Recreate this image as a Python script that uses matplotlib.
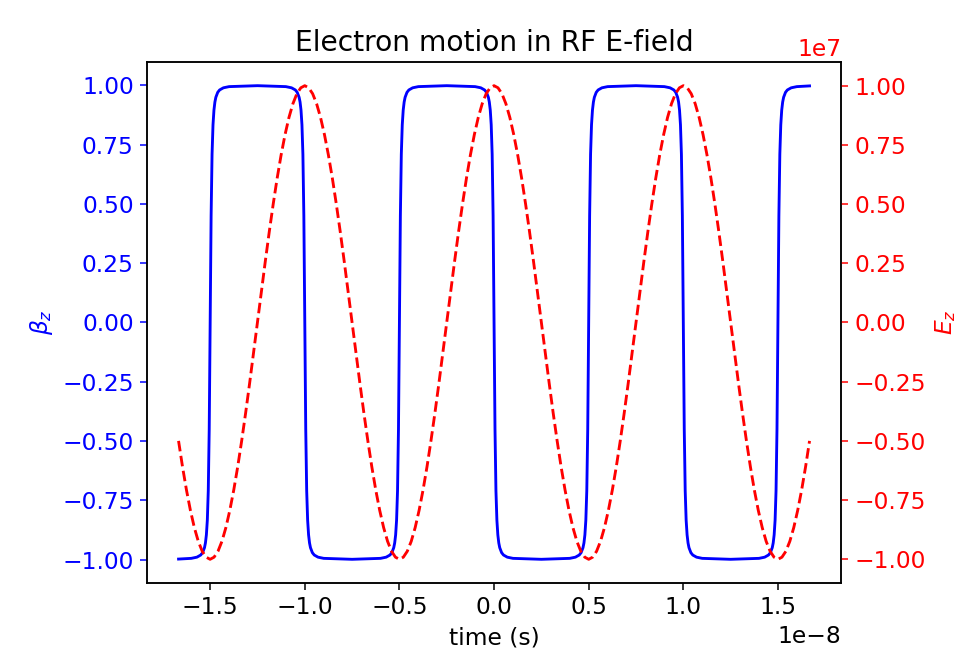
import numpy as np
import matplotlib
matplotlib.use("Agg")
import matplotlib.pyplot as plt

# time values in units of 1e-8 s, field in units of 1e7 V/m
t_beta = [-1.667, -1.60, -1.57, -1.55, -1.54, -1.53, -1.525, -1.52, -1.515, -1.51, -1.505,
          -1.50, -1.495, -1.49, -1.485, -1.48, -1.475, -1.47, -1.46, -1.45, -1.43, -1.40,
          -1.25,
          -1.10, -1.07, -1.05, -1.04, -1.03, -1.025, -1.02, -1.015, -1.01, -1.005,
          -1.00, -0.995, -0.99, -0.985, -0.98, -0.975, -0.97, -0.96, -0.95, -0.93, -0.90,
          -0.75,
          -0.60, -0.57, -0.55, -0.54, -0.53, -0.525, -0.52, -0.515, -0.51, -0.505,
          -0.50, -0.495, -0.49, -0.485, -0.48, -0.475, -0.47, -0.46, -0.45, -0.43, -0.40,
          -0.25,
          -0.10, -0.07, -0.05, -0.04, -0.03, -0.025, -0.02, -0.015, -0.01, -0.005,
          0.00, 0.005, 0.01, 0.015, 0.02, 0.025, 0.03, 0.04, 0.05, 0.07, 0.10,
          0.25,
          0.40, 0.43, 0.45, 0.46, 0.47, 0.475, 0.48, 0.485, 0.49, 0.495,
          0.50, 0.505, 0.51, 0.515, 0.52, 0.525, 0.53, 0.54, 0.55, 0.57, 0.60,
          0.75,
          0.90, 0.93, 0.95, 0.96, 0.97, 0.975, 0.98, 0.985, 0.99, 0.995,
          1.00, 1.005, 1.01, 1.015, 1.02, 1.025, 1.03, 1.04, 1.05, 1.07, 1.10,
          1.25,
          1.40, 1.43, 1.45, 1.46, 1.47, 1.475, 1.48, 1.485, 1.49, 1.495,
          1.50, 1.505, 1.51, 1.515, 1.52, 1.525, 1.53, 1.54, 1.55, 1.57, 1.60, 1.667]

beta_z = [-0.997, -0.994, -0.989, -0.980, -0.970, -0.949, -0.929, -0.895, -0.833, -0.709, -0.449,
          0.0, 0.449, 0.709, 0.833, 0.895, 0.929, 0.949, 0.970, 0.980, 0.989, 0.994,
          0.998,
          0.994, 0.989, 0.980, 0.970, 0.949, 0.929, 0.895, 0.833, 0.709, 0.449,
          0.0, -0.449, -0.709, -0.833, -0.895, -0.929, -0.949, -0.970, -0.980, -0.989, -0.994,
          -0.998,
          -0.994, -0.989, -0.980, -0.970, -0.949, -0.929, -0.895, -0.833, -0.709, -0.449,
          0.0, 0.449, 0.709, 0.833, 0.895, 0.929, 0.949, 0.970, 0.980, 0.989, 0.994,
          0.998,
          0.994, 0.989, 0.980, 0.970, 0.949, 0.929, 0.895, 0.833, 0.709, 0.449,
          0.0, -0.449, -0.709, -0.833, -0.895, -0.929, -0.949, -0.970, -0.980, -0.989, -0.994,
          -0.998,
          -0.994, -0.989, -0.980, -0.970, -0.949, -0.929, -0.895, -0.833, -0.709, -0.449,
          0.0, 0.449, 0.709, 0.833, 0.895, 0.929, 0.949, 0.970, 0.980, 0.989, 0.994,
          0.998,
          0.994, 0.989, 0.980, 0.970, 0.949, 0.929, 0.895, 0.833, 0.709, 0.449,
          0.0, -0.449, -0.709, -0.833, -0.895, -0.929, -0.949, -0.970, -0.980, -0.989, -0.994,
          -0.998,
          -0.994, -0.989, -0.980, -0.970, -0.949, -0.929, -0.895, -0.833, -0.709, -0.449,
          0.0, 0.449, 0.709, 0.833, 0.895, 0.929, 0.949, 0.970, 0.980, 0.989, 0.994, 0.997]

e_z = [-0.5, -0.609, -0.707, -0.793, -0.866, -0.924, -0.966, -0.991, -1.0,
       -0.991, -0.966, -0.924, -0.866, -0.793, -0.707, -0.609, -0.5, -0.383, -0.259, -0.131, 0.0,
       0.131, 0.259, 0.383, 0.5, 0.609, 0.707, 0.793, 0.866, 0.924, 0.966, 0.991, 1.0,
       0.991, 0.966, 0.924, 0.866, 0.793, 0.707, 0.609, 0.5, 0.383, 0.259, 0.131, 0.0,
       -0.131, -0.259, -0.383, -0.5, -0.609, -0.707, -0.793, -0.866, -0.924, -0.966, -0.991, -1.0,
       -0.991, -0.966, -0.924, -0.866, -0.793, -0.707, -0.609, -0.5, -0.383, -0.259, -0.131, 0.0,
       0.131, 0.259, 0.383, 0.5, 0.609, 0.707, 0.793, 0.866, 0.924, 0.966, 0.991, 1.0,
       0.991, 0.966, 0.924, 0.866, 0.793, 0.707, 0.609, 0.5, 0.383, 0.259, 0.131, 0.0,
       -0.131, -0.259, -0.383, -0.5, -0.609, -0.707, -0.793, -0.866, -0.924, -0.966, -0.991, -1.0,
       -0.991, -0.966, -0.924, -0.866, -0.793, -0.707, -0.609, -0.5, -0.383, -0.259, -0.131, 0.0,
       0.131, 0.259, 0.383, 0.5, 0.609, 0.707, 0.793, 0.866, 0.924, 0.966, 0.991, 1.0,
       0.991, 0.966, 0.924, 0.866, 0.793, 0.707, 0.609, 0.5, 0.383, 0.259, 0.131, 0.0,
       -0.131, -0.259, -0.383, -0.5, -0.609, -0.707, -0.793, -0.866, -0.924, -0.966, -0.991, -1.0,
       -0.991, -0.966, -0.924, -0.866, -0.793, -0.707, -0.609, -0.5]
t_e = np.linspace(-1.667, 1.667, len(e_z))

plt.rcParams['font.size'] = 12.3

dpi = 137
fig = plt.figure(figsize=(964 / dpi, 656 / dpi), dpi=dpi)
ax1 = fig.add_axes([0.1525, 0.1113, 0.72, 0.7942])

ax1.plot(np.array(t_beta) * 1e-8, beta_z, 'b-')
ax1.set_xlabel('time (s)')
ax1.set_ylabel(r'$\beta_z$', color='b')
ax1.tick_params('y', colors='b')
ax1.set_title('Electron motion in RF E-field')

ax2 = ax1.twinx()
ax2.plot(t_e * 1e-8, np.array(e_z) * 1e7, 'r--')
ax2.set_ylabel(r'$E_z$', color='r')
ax2.tick_params('y', colors='r')
ax2.yaxis.get_offset_text().set_color('r')

fig.savefig('out.png', dpi=dpi)
